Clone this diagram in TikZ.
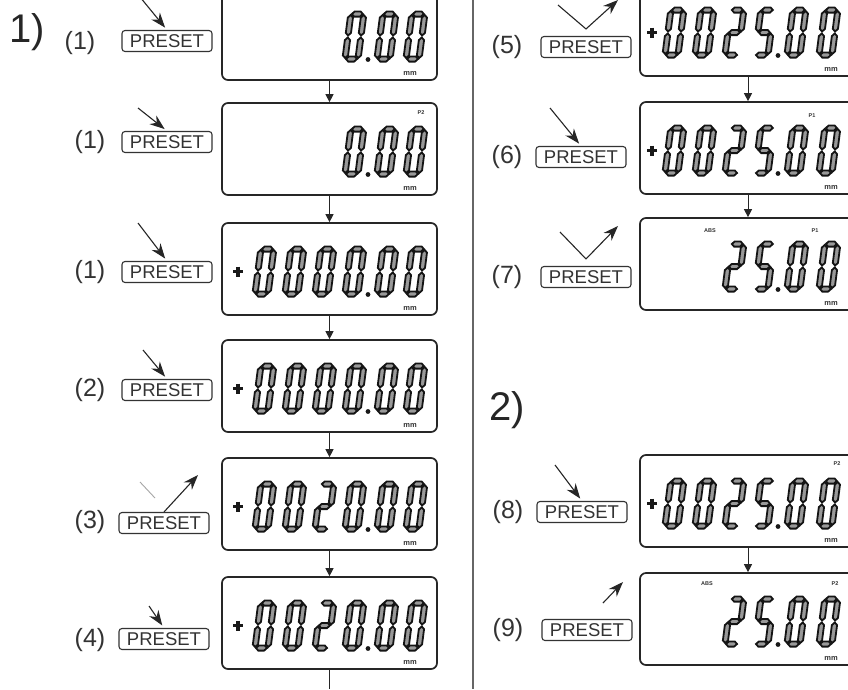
\documentclass[tikz,border=0pt]{standalone}
\usepackage{fontspec}
\setmainfont{Liberation Sans}
\usetikzlibrary{arrows.meta,calc}

\def\sk{0.13}\def\sT{2.6}
\newcommand\hseg[3]{\filldraw[seg] ({\DGx+#1+\sk*(#3)},{\DGy-(#3)}) -- ({\DGx+#1+\sT+\sk*(#3+\sT)},{\DGy-(#3+\sT)}) -- ({\DGx+#2-\sT+\sk*(#3+\sT)},{\DGy-(#3+\sT)}) -- ({\DGx+#2+\sk*(#3)},{\DGy-(#3)}) -- ({\DGx+#2-\sT+\sk*(#3-\sT)},{\DGy-(#3-\sT)}) -- ({\DGx+#1+\sT+\sk*(#3-\sT)},{\DGy-(#3-\sT)}) -- cycle;}
\newcommand\vseg[3]{\filldraw[seg] ({\DGx+#1+\sk*(#2)},{\DGy-(#2)}) -- ({\DGx+#1+\sT+\sk*(#2+\sT)},{\DGy-(#2+\sT)}) -- ({\DGx+#1+\sT+\sk*(#3-\sT)},{\DGy-(#3-\sT)}) -- ({\DGx+#1+\sk*(#3)},{\DGy-(#3)}) -- ({\DGx+#1-\sT+\sk*(#3-\sT)},{\DGy-(#3-\sT)}) -- ({\DGx+#1-\sT+\sk*(#2+\sT)},{\DGy-(#2+\sT)}) -- cycle;}
\newcommand\SgA{\hseg{1}{12}{45}}
\newcommand\SgD{\hseg{1}{12}{0}}
\newcommand\SgG{\hseg{1}{12}{22.5}}
\newcommand\SgB{\vseg{13}{23.5}{44}}
\newcommand\SgC{\vseg{13}{1}{21.5}}
\newcommand\SgE{\vseg{0}{1}{21.5}}
\newcommand\SgF{\vseg{0}{23.5}{44}}
\expandafter\def\csname dg0\endcsname{\SgA\SgB\SgC\SgD\SgE\SgF}
\expandafter\def\csname dg2\endcsname{\SgA\SgB\SgG\SgE\SgD}
\expandafter\def\csname dg5\endcsname{\SgA\SgF\SgG\SgC\SgD}
\expandafter\def\csname dgx\endcsname{}
\newcommand\dig[3]{\def\DGx{#1}\def\DGy{#2}\csname dg#3\endcsname}
\newcommand\Lnum[7]{\dig{255}{#1}{#2}\dig{285}{#1}{#3}\dig{315}{#1}{#4}\dig{345}{#1}{#5}\dig{377}{#1}{#6}\dig{406}{#1}{#7}\fill[segdot] (368,{#1+0.5}) circle (2.4);}
\newcommand\Rnum[7]{\dig{665}{#1}{#2}\dig{695}{#1}{#3}\dig{725}{#1}{#4}\dig{755}{#1}{#5}\dig{787}{#1}{#6}\dig{819}{#1}{#7}\fill[segdot] (778,{#1+0.5}) circle (2.4);}
\newcommand\plussign[2]{\draw[plusst] ({#1-5},{#2}) -- ({#1+5},{#2}) ({#1},{#2-5}) -- ({#1},{#2+5});}

\begin{document}
\begin{tikzpicture}[x=1pt,y=-1pt,
  seg/.style={draw=black!92, fill=black!40, line width=1.8pt, line join=miter},
  segdot/.style={fill=black!90},
  plusst/.style={draw=black!90, line width=3.2pt},
  disp/.style={draw=black!85, line width=1.7pt, rounded corners=6pt, minimum width=215pt, minimum height=92pt, inner sep=0pt},
  pre/.style={draw=black!80, line width=1.1pt, rounded corners=3pt, minimum width=90pt, minimum height=21pt, inner sep=0pt, font=\fontsize{18.5}{18.5}\selectfont, text=black!80},
  lab/.style={font=\fontsize{25}{25}\selectfont, text=black!80, inner sep=0pt},
  biglab/.style={font=\fontsize{40}{40}\selectfont, text=black!85, inner sep=0pt},
  mmlab/.style={font=\fontsize{7.5}{7.5}\selectfont\bfseries, text=black!80, inner sep=0pt},
  ind/.style={font=\fontsize{5.5}{5.5}\selectfont\bfseries, text=black!80, inner sep=0pt},
  flow/.style={draw=black!85, line width=1pt, -{Triangle[length=8pt,width=8pt]}},
  flowline/.style={draw=black!85, line width=1pt},
  press/.style={draw=black!85, line width=1.1pt, -{Stealth[length=15pt,width=11pt]}, shorten >=3pt},
  pressv/.style={draw=black!85, line width=1.1pt, -{Stealth[length=15pt,width=11pt]}},
  faint/.style={draw=black!35, line width=0.9pt},
  divider/.style={draw=black!60, line width=1.6pt}]
\useasboundingbox (0,0) rectangle (848,689);
\clip (0,0) rectangle (848,689);
\fill[white] (0,0) rectangle (848,689);

% divider
\coordinate (dvt) at (473,0);
\coordinate (dvb) at (473,689);
\draw[divider] (dvt) -- (dvb);

% section labels
\node[biglab] (s1) at (27,32) {1)};
\node[biglab] (s2) at (507,410) {2)};

% ---------- left displays ----------
\node[disp] (d1) at (329.5,34) {};
\node[disp] (d2) at (329.5,149) {};
\node[disp] (d3) at (329.5,269) {};
\node[disp] (d4) at (329.5,386) {};
\node[disp] (d5) at (329.5,504) {};
\node[disp] (d6) at (329.5,623) {};
\coordinate (lend) at (329.5,689);

\draw[flow] (d1.south) -- (d2.north);
\draw[flow] (d2.south) -- (d3.north);
\draw[flow] (d3.south) -- (d4.north);
\draw[flow] (d4.south) -- (d5.north);
\draw[flow] (d5.south) -- (d6.north);
\draw[flowline] (d6.south) -- (lend);

\Lnum{59}{x}{x}{x}{0}{0}{0}
\Lnum{174}{x}{x}{x}{0}{0}{0}
\Lnum{294}{0}{0}{0}{0}{0}{0}
\Lnum{411}{0}{0}{0}{0}{0}{0}
\Lnum{529}{0}{0}{2}{0}{0}{0}
\Lnum{648}{0}{0}{2}{0}{0}{0}
\plussign{238}{271.5}
\plussign{238}{388.5}
\plussign{238}{506.5}
\plussign{238}{625.5}

\node[mmlab] (m1) at (410,73) {mm};
\node[mmlab] (m2) at (410,188) {mm};
\node[mmlab] (m3) at (410,308) {mm};
\node[mmlab] (m4) at (410,425) {mm};
\node[mmlab] (m5) at (410,543) {mm};
\node[mmlab] (m6) at (410,662) {mm};
\node[ind] (i2) at (421,113) {P2};

% ---------- right displays ----------
\node[disp, minimum width=216pt] (r5) at (748,30) {};
\node[disp, minimum width=216pt] (r6) at (748,148) {};
\node[disp, minimum width=216pt] (r7) at (748,264) {};
\node[disp, minimum width=216pt] (r8) at (748,501) {};
\node[disp, minimum width=216pt] (r9) at (748,619) {};

\draw[flow] (r5.south) -- (r6.north);
\draw[flow] (r6.south) -- (r7.north);
\draw[flow] (r8.south) -- (r9.north);

\Rnum{55}{0}{0}{2}{5}{0}{0}
\Rnum{173}{0}{0}{2}{5}{0}{0}
\Rnum{289}{x}{x}{2}{5}{0}{0}
\Rnum{526}{0}{0}{2}{5}{0}{0}
\Rnum{644}{x}{x}{2}{5}{0}{0}
\plussign{652}{32.5}
\plussign{652}{150.5}
\plussign{652}{503.5}

\node[mmlab] (n5) at (831,69) {mm};
\node[mmlab] (n6) at (831,187) {mm};
\node[mmlab] (n7) at (831,303) {mm};
\node[mmlab] (n8) at (831,540) {mm};
\node[mmlab] (n9) at (831,658) {mm};
\node[ind] (j6) at (812,116) {P1};
\node[ind] (j7a) at (710,231) {ABS};
\node[ind] (j7b) at (815,231) {P1};
\node[ind] (j8) at (837,464) {P2};
\node[ind] (j9a) at (707,584) {ABS};
\node[ind] (j9b) at (835,584) {P2};

% ---------- left step labels and PRESET keys ----------
\node[lab] (l1) at (80,43) {(1)};
\node[lab] (l2) at (90,142) {(1)};
\node[lab] (l3) at (90,272) {(1)};
\node[lab] (l4) at (90,390) {(2)};
\node[lab] (l5) at (90,522) {(3)};
\node[lab] (l6) at (90,640) {(4)};
\node[pre] (p1) at (167,41) {PRESET};
\node[pre] (p2) at (167,142) {PRESET};
\node[pre] (p3) at (167,272) {PRESET};
\node[pre] (p4) at (167,390) {PRESET};
\node[pre] (p5) at (164,523) {PRESET};
\node[pre] (p6) at (164,639) {PRESET};

\coordinate (a1) at (140,-3);
\coordinate (a2) at (138,108);
\coordinate (a3) at (138,223);
\coordinate (a4) at (143,350);
\coordinate (f5a) at (140,482);
\coordinate (f5b) at (155,498);
\coordinate (e5) at (198,475);
\coordinate (a6) at (149,606);
\draw[press] (a1) -- (p1.north);
\draw[press] (a2) -- (p2.north);
\draw[press] (a3) -- (p3.north);
\draw[press] (a4) -- (p4.north);
\draw[faint] (f5a) -- (f5b);
\draw[pressv] (p5.north) -- (e5);
\draw[press] (a6) -- (p6.north);

% ---------- right step labels and PRESET keys ----------
\node[lab] (k5) at (507,47) {(5)};
\node[lab] (k6) at (507,157) {(6)};
\node[lab] (k7) at (507,277) {(7)};
\node[lab] (k8) at (508,512) {(8)};
\node[lab] (k9) at (508,630) {(9)};
\node[pre] (q5) at (586,47) {PRESET};
\node[pre] (q6) at (581,157) {PRESET};
\node[pre] (q7) at (586,277) {PRESET};
\node[pre] (q8) at (582,512) {PRESET};
\node[pre] (q9) at (587,630) {PRESET};

\coordinate (b5s) at (558,5);
\coordinate (b5e) at (618,0);
\coordinate (b6s) at (550,108);
\coordinate (b7s) at (560,232);
\coordinate (b7e) at (618,226);
\coordinate (b8s) at (555,465);
\coordinate (b9s) at (603,603);
\coordinate (b9e) at (623,582);
\draw[pressv] (b5s) -- ($(q5.north)+(0,-7)$) -- (b5e);
\draw[press] (b6s) -- (q6.north);
\draw[pressv] (b7s) -- ($(q7.north)+(0,-7)$) -- (b7e);
\draw[press] (b8s) -- (q8.north);
\draw[pressv] (b9s) -- (b9e);
\end{tikzpicture}
\end{document}
